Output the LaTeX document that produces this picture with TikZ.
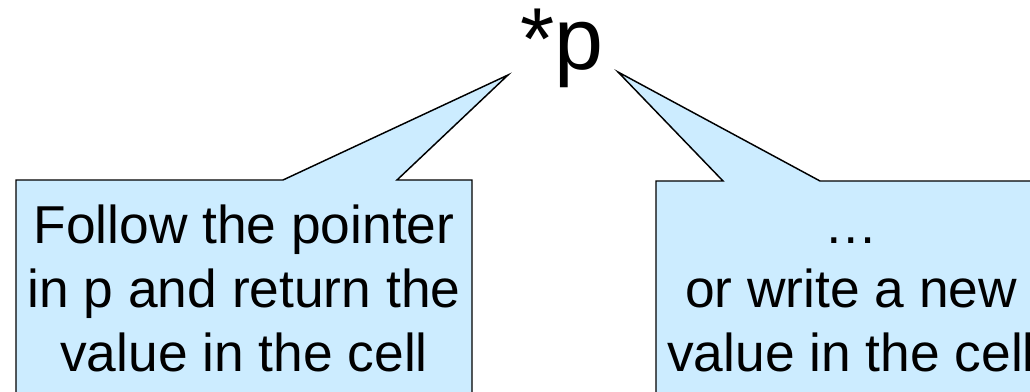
\documentclass[tikz,border=0pt]{standalone}
\usepackage{fontspec}
\setmainfont{Liberation Sans}
\definecolor{calloutfill}{HTML}{CCECFF}
\tikzset{
  callout/.style={draw=black, fill=calloutfill, line width=1.1pt, line join=miter},
  boxtext/.style={anchor=base, inner sep=0pt, font=\fontsize{40}{48}\selectfont},
  bigtext/.style={anchor=base, inner sep=0pt, font=\fontsize{66}{80}\selectfont}
}
\begin{document}
\begin{tikzpicture}[x=0.75pt, y=-0.75pt]
\useasboundingbox (0,0) rectangle (1030,392);
% title
\node[bigtext] (ptr) at (562,70) {*p};
\coordinate (tipL) at (508,75);
\coordinate (tipR) at (618,72);
% left callout
\draw[callout] (16,180) -- (283,180) -- (tipL) -- (397,180) -- (472,180) -- (472,410) -- (16,410) -- cycle;
% right callout
\draw[callout] (656,181) -- (723,181) -- (tipR) -- (820,181) -- (1050,181) -- (1050,410) -- (656,410) -- cycle;
% left text
\node[boxtext] (l1) at (244,243) {Follow the pointer};
\node[boxtext] (l2) at (244,307) {in p and return the};
\node[boxtext] (l3) at (244,371) {value in the cell};
% right text
\node[boxtext] (r1) at (851,243) {…};
\node[boxtext] (r2) at (851,307) {or write a new};
\node[boxtext] (r3) at (851,371) {value in the cell};
\end{tikzpicture}
\end{document}
